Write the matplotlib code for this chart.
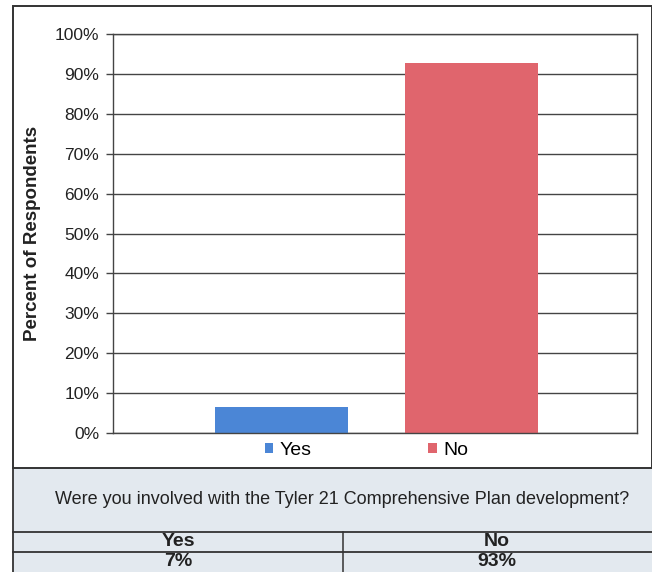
import matplotlib.pyplot as plt
from matplotlib.patches import Rectangle, Patch
from matplotlib.lines import Line2D

plt.rcParams['font.family'] = ['Liberation Sans', 'DejaVu Sans']

# data
answers = ['Yes', 'No']
percents = [6.5, 92.8]
table_values = ['7%', '93%']
question = 'Were you involved with the Tyler 21 Comprehensive Plan development?'
yticks = list(range(0, 101, 10))
colors = ['#4b86d6', '#e0656d']

W, H = 652, 572
fig = plt.figure(figsize=(W / 100, H / 100), dpi=100)


def fx(px):
    return px / W


def fy(py):
    return 1 - py / H


# table area background (below chart box)
fig.patches.append(Rectangle((fx(13), fy(572)), fx(652 - 13), fy(468) - fy(572),
                             transform=fig.transFigure, facecolor='#e3e9ef',
                             edgecolor='none', zorder=0))
# chart box
fig.patches.append(Rectangle((fx(13), fy(468)), fx(652 - 13), fy(6) - fy(468),
                             transform=fig.transFigure, facecolor='white',
                             edgecolor='#333333', lw=1.4, zorder=1))

# table lines
for y in (532, 552):
    fig.add_artist(Line2D([fx(13), 1], [fy(y), fy(y)], transform=fig.transFigure,
                          color='#333333', lw=1.3))
fig.add_artist(Line2D([fx(13), fx(13)], [fy(468), 0], transform=fig.transFigure,
                      color='#333333', lw=1.3))
fig.add_artist(Line2D([fx(343), fx(343)], [fy(532), 0], transform=fig.transFigure,
                      color='#333333', lw=1.1))

fig.text(fx(342), fy(500), question, ha='center', va='center', fontsize=13,
         color='#222222')
for x, ans, val in zip((178, 497), answers, table_values):
    fig.text(fx(x), fy(542), ans, ha='center', va='center', fontsize=14,
             fontweight='bold', color='#222222')
    fig.text(fx(x), fy(562), val, ha='center', va='center', fontsize=14,
             fontweight='bold', color='#222222')

# plot area
ax = fig.add_axes([fx(113), fy(433), fx(637 - 113), fy(34) - fy(433)])
ax.set_zorder(2)
xpos = [0, 1]
ax.bar(xpos, percents, width=0.7, color=colors, zorder=2)
ax.set_xlim(-0.887, 1.871)
ax.set_ylim(0, 100)
ax.set_yticks(yticks)
ax.set_yticklabels([f'{t}%' for t in yticks], fontsize=12.5, color='#222222')
ax.set_xticks([])
ax.tick_params(axis='y', length=5, width=1, color='#444444', pad=5)
ax.yaxis.grid(True, color='#444444', lw=1)
ax.set_axisbelow(True)
for s in ax.spines.values():
    s.set_color('#444444')
    s.set_linewidth(1)
ax.set_ylabel('Percent of Respondents', fontsize=13.5, fontweight='bold',
              color='#222222', labelpad=10)

handles = [Patch(facecolor=c, label=a) for c, a in zip(colors, answers)]
ax.legend(handles=handles, loc='center', bbox_to_anchor=(0.484, -0.043), ncol=2,
          frameon=False, fontsize=14, handlelength=0.42, handleheight=0.42,
          handletextpad=0.35, columnspacing=6.0)

fig.savefig('out.png', dpi=100)
